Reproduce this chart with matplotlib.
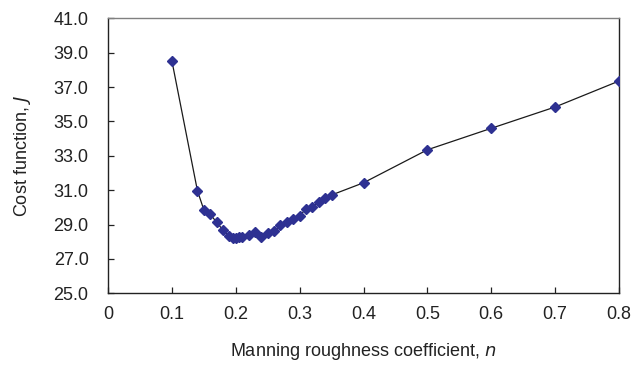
import matplotlib
matplotlib.use("Agg")
import matplotlib.pyplot as plt

plt.rcParams['font.family'] = ['Liberation Sans', 'DejaVu Sans']

n_values = [0.10, 0.14, 0.15, 0.16, 0.17, 0.18, 0.19, 0.195, 0.20, 0.205, 0.21,
            0.22, 0.23, 0.24, 0.25, 0.26, 0.27, 0.28, 0.29, 0.30, 0.31, 0.32,
            0.33, 0.34, 0.35, 0.40, 0.50, 0.60, 0.70, 0.80]
J_values = [38.53, 30.97, 29.86, 29.61, 29.13, 28.68, 28.33, 28.22, 28.20, 28.25, 28.30,
            28.42, 28.55, 28.25, 28.50, 28.62, 28.95, 29.13, 29.32, 29.50, 29.92, 30.00,
            30.32, 30.53, 30.72, 31.43, 33.35, 34.60, 35.84, 37.35]

x_ticks = [0, 0.1, 0.2, 0.3, 0.4, 0.5, 0.6, 0.7, 0.8]
x_ticklabels = ['0', '0.1', '0.2', '0.3', '0.4', '0.5', '0.6', '0.7', '0.8']
y_ticks = [25, 27, 29, 31, 33, 35, 37, 39, 41]
y_ticklabels = ['%.1f' % v for v in y_ticks]

fig = plt.figure(figsize=(6.38, 3.65), dpi=100)
ax = fig.add_axes([108/638, 1-293.3/365, (619-108)/638, (293.3-18.3)/365])

ax.plot(n_values, J_values, color='#1a1a1a', lw=0.9, marker='D', ms=4.6,
        markerfacecolor='#2E3192', markeredgecolor='#2E3192', zorder=3)

ax.set_xlim(0, 0.8)
ax.set_ylim(25, 41)
ax.set_xticks(x_ticks)
ax.set_xticklabels(x_ticklabels)
ax.set_yticks(y_ticks)
ax.set_yticklabels(y_ticklabels)

ax.tick_params(axis='both', direction='in', length=4, width=0.9, labelsize=13,
               colors='#222222')
ax.tick_params(axis='y', pad=14)
ax.tick_params(axis='x', pad=9)

for side in ['left', 'bottom', 'right']:
    ax.spines[side].set_color('#222222')
    ax.spines[side].set_linewidth(1.0)
ax.spines['top'].set_color('#808080')
ax.spines['top'].set_linewidth(1.0)

ax.set_xlabel('Manning roughness coefficient, $\\it{n}$', fontsize=13,
              color='#222222', labelpad=13)
ax.set_ylabel('Cost function, $\\it{J}$', fontsize=13, color='#222222', labelpad=15)

fig.savefig('out.png', dpi=100)
